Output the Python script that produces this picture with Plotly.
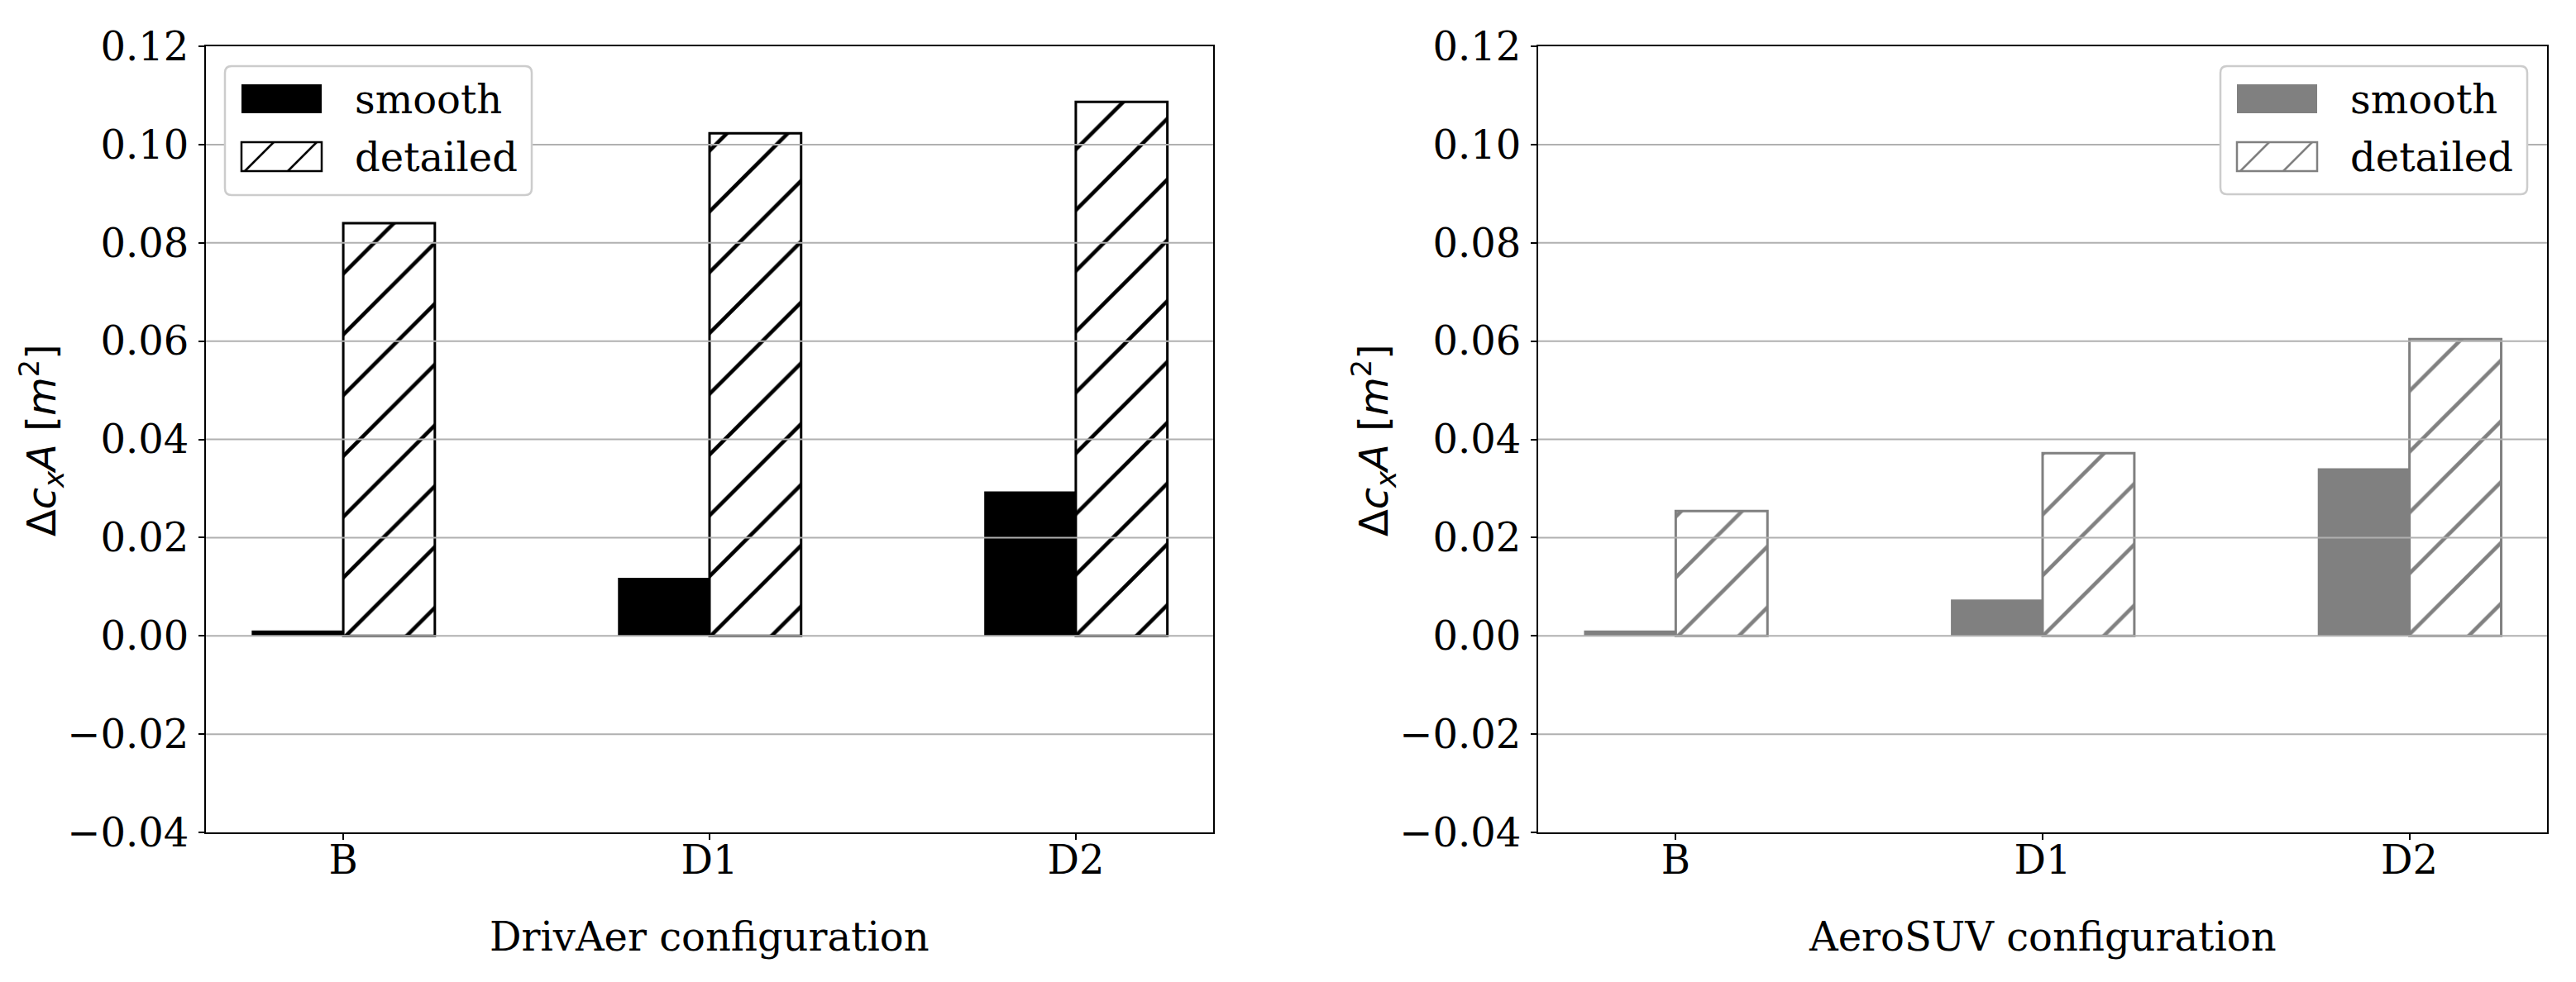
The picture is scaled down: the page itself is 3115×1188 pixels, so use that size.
import plotly.graph_objects as go

W, H = 3115, 1188
BODY = 8  # default page margin around the plot div

# ---- data ----
categories = ["B", "D1", "D2"]
series_names = ["smooth", "detailed"]
drivaer_smooth = [0.0011, 0.0118, 0.0294]
drivaer_detailed = [0.0840, 0.1023, 0.1087]
aerosuv_smooth = [0.0011, 0.0074, 0.0341]
aerosuv_detailed = [0.0254, 0.0372, 0.0604]
ytick_vals = [-0.04, -0.02, 0.00, 0.02, 0.04, 0.06, 0.08, 0.10, 0.12]
ytick_text = ["\u22120.04", "\u22120.02", "0.00", "0.02", "0.04", "0.06", "0.08", "0.10", "0.12"]
x_titles = ["DrivAer configuration", "AeroSUV configuration"]
y_title = "\u0394<i>c<sub>x</sub>A</i> [<i>m</i><sup>2</sup>]"

# ---- style ----
SERIF = "DejaVu Serif"
SANS = "DejaVu Sans"
FS = 48
panel_colors = ["#000000", "#808080"]
GRID = "#b0b0b0"


def PX(x):
    return (x - BODY) / W


def PY(y):
    return 1 - (y - BODY) / H


# plot areas in screen pixels (left, right, top, bottom)
panels = [
    dict(l=249, r=1467, t=56, b=1007, smooth=drivaer_smooth, detailed=drivaer_detailed,
         legend=dict(l=272, r=643, t=80, b=236)),
    dict(l=1860, r=3080, t=56, b=1007, smooth=aerosuv_smooth, detailed=aerosuv_detailed,
         legend=dict(l=2685, r=3056, t=80, b=235)),
]

fig = go.Figure()
layout = dict(
    template="none",
    width=W, height=H,
    margin=dict(l=0, r=0, t=0, b=0, autoexpand=False),
    paper_bgcolor="white", plot_bgcolor="white",
    barmode="group", bargap=0.5, bargroupgap=0,
    showlegend=False,
    font=dict(family=SERIF, size=FS, color="black"),
)
shapes = []
annotations = []

for i, p in enumerate(panels):
    sfx = "" if i == 0 else str(i + 1)
    xa, ya = "x" + sfx, "y" + sfx
    col = panel_colors[i]
    fig.add_trace(go.Bar(
        x=categories, y=p["smooth"], name=series_names[0], xaxis=xa, yaxis=ya,
        marker=dict(color=col, line=dict(color=col, width=0)),
    ))
    fig.add_trace(go.Bar(
        x=categories, y=p["detailed"], name=series_names[1], xaxis=xa, yaxis=ya,
        marker=dict(color="white", line=dict(color=col, width=3),
                    pattern=dict(shape="/", size=52, solidity=0.09,
                                 fgcolor=col, bgcolor="white")),
    ))
    layout["xaxis" + sfx] = dict(
        domain=[PX(p["l"]), PX(p["r"])], anchor=ya, type="category", automargin=False,
        range=[-0.375, 2.375], showline=True, linecolor="black", linewidth=2,
        mirror=True, ticks="outside", ticklen=7, tickwidth=2, tickcolor="black",
        tickfont=dict(family=SERIF, size=FS), showgrid=False, zeroline=False,
        ticklabelstandoff=-17,
    )
    layout["yaxis" + sfx] = dict(
        domain=[PY(p["b"]), PY(p["t"])], anchor=xa, range=[-0.04, 0.12], automargin=False,
        tickvals=ytick_vals, ticktext=ytick_text,
        showline=True, linecolor="black", linewidth=2, mirror=True,
        ticks="outside", ticklen=7, tickwidth=2, tickcolor="black",
        tickfont=dict(family=SERIF, size=FS), showgrid=False, zeroline=False,
        ticklabelstandoff=2,
    )
    # gridlines drawn above bars (as in the reference)
    for v in ytick_vals[1:-1]:
        shapes.append(dict(type="line", xref=xa + " domain", yref=ya, x0=0, x1=1,
                           y0=v, y1=v, line=dict(color=GRID, width=2), layer="above"))
    # axis titles
    annotations.append(dict(text=x_titles[i], xref="paper", yref="paper",
                            x=PX((p["l"] + p["r"]) / 2), y=PY(1133), xanchor="center",
                            yanchor="middle", showarrow=False,
                            font=dict(family=SERIF, size=FS)))
    annotations.append(dict(text=y_title, xref="paper", yref="paper",
                            x=PX(p["l"] - 199), y=PY(533), xanchor="center",
                            yanchor="middle", textangle=-90, showarrow=False,
                            font=dict(family=SANS, size=FS)))
    # custom legend
    lg = p["legend"]
    r = 8
    l, rr, t, b = lg["l"], lg["r"], lg["t"], lg["b"]
    path = (f"M {PX(l + r)},{PY(t)} L {PX(rr - r)},{PY(t)} Q {PX(rr)},{PY(t)} {PX(rr)},{PY(t + r)} "
            f"L {PX(rr)},{PY(b - r)} Q {PX(rr)},{PY(b)} {PX(rr - r)},{PY(b)} "
            f"L {PX(l + r)},{PY(b)} Q {PX(l)},{PY(b)} {PX(l)},{PY(b - r)} "
            f"L {PX(l)},{PY(t + r)} Q {PX(l)},{PY(t)} {PX(l + r)},{PY(t)} Z")
    shapes.append(dict(type="path", xref="paper", yref="paper", path=path,
                       fillcolor="white", line=dict(color="#cccccc", width=2.5),
                       layer="above"))
    pl = l + 20
    pr = pl + 97
    rows = [(t + 22, t + 57), (t + 92, t + 127)]
    # smooth patch
    shapes.append(dict(type="rect", xref="paper", yref="paper",
                       x0=PX(pl), x1=PX(pr), y0=PY(rows[0][1]), y1=PY(rows[0][0]),
                       fillcolor=col, line=dict(width=0), layer="above"))
    # detailed patch
    y0r, y1r = rows[1]
    shapes.append(dict(type="rect", xref="paper", yref="paper",
                       x0=PX(pl), x1=PX(pr), y0=PY(y1r), y1=PY(y0r),
                       fillcolor="white", line=dict(color=col, width=2.5), layer="above"))
    hh = y1r - y0r
    for start in (pl + 4, pl + 56):
        shapes.append(dict(type="line", xref="paper", yref="paper",
                           x0=PX(start), y0=PY(y1r), x1=PX(start + hh), y1=PY(y0r),
                           line=dict(color=col, width=2.5), layer="above"))
    for k, name in enumerate(series_names):
        annotations.append(dict(text=name, xref="paper", yref="paper",
                                x=PX(pr + 38), y=PY((rows[k][0] + rows[k][1]) / 2),
                                xanchor="left", yanchor="middle", showarrow=False,
                                font=dict(family=SERIF, size=FS)))

layout["shapes"] = shapes
layout["annotations"] = annotations
fig.update_layout(**layout)
fig.write_html("out.html")
